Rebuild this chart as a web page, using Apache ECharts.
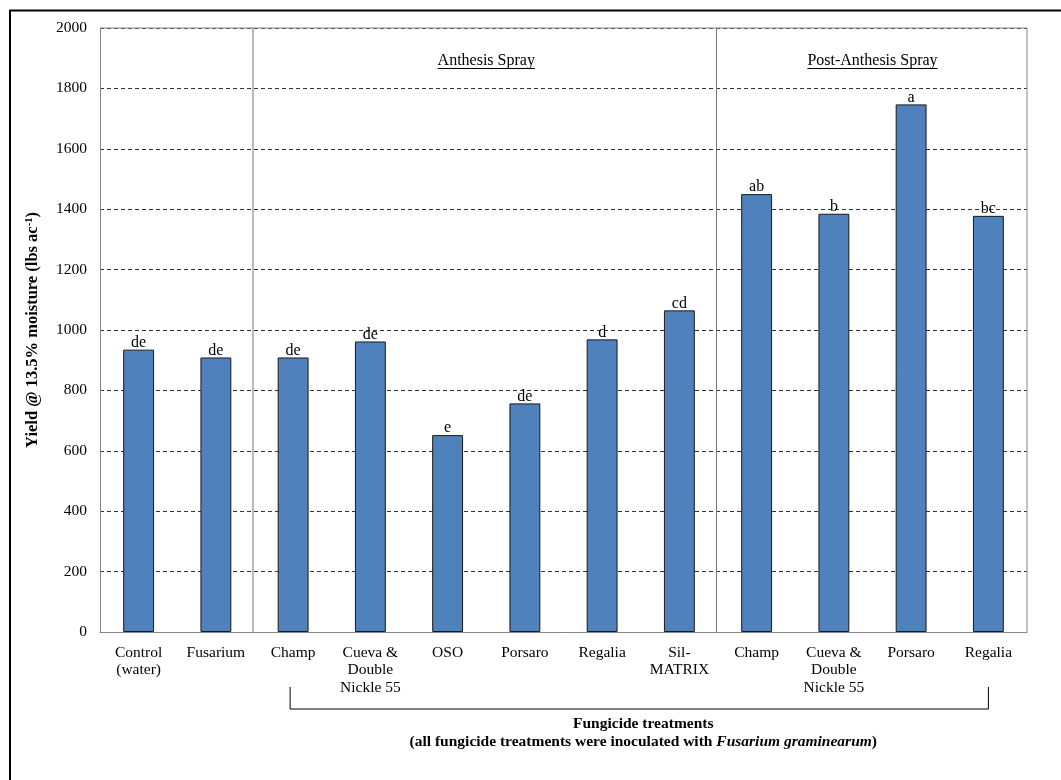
<!DOCTYPE html>
<html><head><meta charset="utf-8">
<script src="https://cdn.jsdelivr.net/npm/echarts@6/dist/echarts.min.js"></script>
<style>html,body{margin:0;padding:0;background:#fff}#c{width:1061px;height:780px}</style>
</head><body><div id="c"></div>
<script>
// ---- data ----
const categories = ['Control\n(water)', 'Fusarium', 'Champ', 'Cueva &\nDouble\nNickle 55', 'OSO', 'Porsaro', 'Regalia', 'Sil-\nMATRIX', 'Champ', 'Cueva &\nDouble\nNickle 55', 'Porsaro', 'Regalia'];
const yields = [935, 909, 909, 962, 652, 757, 969, 1065, 1450, 1385, 1747, 1378];
const letters = ['de', 'de', 'de', 'de', 'e', 'de', 'd', 'cd', 'ab', 'b', 'a', 'bc'];
const yMin = 0, yMax = 2000, yStep = 200;
const groupTitles = ['Anthesis Spray', 'Post-Anthesis Spray'];
const groupRanges = [[2, 7], [8, 11]];
const bracketRange = [2, 11];
const yTitleMain = 'Yield @ 13.5% moisture (lbs ac';
const yTitleSup = '-1';
const xTitleLine1 = 'Fungicide treatments';
const xTitleLine2a = '(all fungicide treatments were inoculated with ';
const xTitleLine2b = 'Fusarium graminearum';
const xTitleLine2c = ')';

(function () {
const SERIF = '"Liberation Serif","Times New Roman",serif';
const chart = echarts.init(document.getElementById('c'), null, {renderer: 'canvas'});
chart.setOption({
  animation: false,
  backgroundColor: '#fff',
  grid: {left: 100, right: 34, top: 28, bottom: 148},
  xAxis: {
    type: 'category', data: categories,
    axisTick: {show: false},
    axisLine: {lineStyle: {color: '#868686', width: 1}},
    axisLabel: {interval: 0, color: '#000', fontFamily: SERIF, fontSize: 15.5, lineHeight: 17.5, margin: 12}
  },
  yAxis: {
    type: 'value', min: yMin, max: yMax, interval: yStep,
    axisLine: {show: true, lineStyle: {color: '#868686'}},
    axisTick: {show: false},
    axisLabel: {color: '#000', fontFamily: SERIF, fontSize: 15.5, margin: 13, formatter: v => String(v)},
    splitLine: {lineStyle: {color: '#333', type: [4, 3], width: 1}}
  },
  series: [{
    type: 'bar', data: yields, barWidth: '40%',
    itemStyle: {color: '#4F81BD', borderColor: '#1a1a1a', borderWidth: 1},
    label: {show: true, position: 'top', distance: -1, formatter: p => letters[p.dataIndex],
      fontFamily: SERIF, fontSize: 16, color: '#000'}
  }]
});

const px = i => chart.convertToPixel({xAxisIndex: 0}, i);
const py = v => chart.convertToPixel({yAxisIndex: 0}, v);
const step = px(1) - px(0);
const pLeft = px(0) - step / 2, pRight = px(categories.length - 1) + step / 2;
const pTop = py(yMax), pBottom = py(yMin);

const ctx = document.createElement('canvas').getContext('2d');
function textW(t, font) { ctx.font = font; return ctx.measureText(t).width; }

const g = [];
g.push({type: 'rect', shape: {x: 10, y: 10.5, width: 1100, height: 800}, style: {fill: 'none', stroke: '#000', lineWidth: 2}, z: 100});
g.push({type: 'polyline', shape: {points: [[pLeft, pTop], [pRight, pTop], [pRight, pBottom]]}, style: {stroke: '#868686', lineWidth: 1, fill: 'none'}, z: 100});
groupRanges.forEach((r, k) => {
  const xs = px(r[0]) - step / 2 - 1.5;
  if (r[0] > 0) g.push({type: 'line', shape: {x1: xs, y1: pTop, x2: xs, y2: pBottom}, style: {stroke: '#777', lineWidth: 1}, z: 100});
  const cx = (px(r[0]) + px(r[1])) / 2;
  const font = '16px "Liberation Serif"';
  const w = textW(groupTitles[k], font);
  g.push({type: 'text', x: cx, y: 61, style: {text: groupTitles[k], fontFamily: SERIF, fontSize: 16, fill: '#000', align: 'center', verticalAlign: 'middle'}, z: 100});
  g.push({type: 'line', shape: {x1: cx - w / 2, y1: 68.5, x2: cx + w / 2, y2: 68.5}, style: {stroke: '#000', lineWidth: 1}, z: 100});
});
const bx1 = px(bracketRange[0]) - 3, bx2 = px(bracketRange[1]);
g.push({type: 'polyline', shape: {points: [[bx1, 687], [bx1, 709], [bx2, 709], [bx2, 687]]}, style: {stroke: '#000', lineWidth: 1, fill: 'none'}, z: 100});
const bcx = (bx1 + bx2) / 2 + 4;
g.push({type: 'text', x: bcx, y: 724, style: {text: xTitleLine1, fontFamily: SERIF, fontSize: 15.5, fontWeight: 'bold', fill: '#000', align: 'center', verticalAlign: 'middle'}, z: 100});
g.push({type: 'text', x: bcx, y: 742, style: {
  text: '{b|' + xTitleLine2a + '}{i|' + xTitleLine2b + '}{b|' + xTitleLine2c + '}',
  align: 'center', verticalAlign: 'middle',
  rich: {
    b: {fontFamily: SERIF, fontSize: 15.5, fontWeight: 'bold', fill: '#000'},
    i: {fontFamily: SERIF, fontSize: 15.5, fontWeight: 'bold', fontStyle: 'italic', fill: '#000'}
  }}, z: 100});
g.push({type: 'text', x: 33, y: (pTop + pBottom) / 2, rotation: Math.PI / 2, style: {
  text: '{b|' + yTitleMain + '}{s|' + yTitleSup + '}{b|)}',
  align: 'center', verticalAlign: 'middle',
  rich: {
    b: {fontFamily: SERIF, fontSize: 16.5, fontWeight: 'bold', fill: '#000', lineHeight: 18},
    s: {fontFamily: SERIF, fontSize: 10.5, fontWeight: 'bold', fill: '#000', verticalAlign: 'top', lineHeight: 10}
  }}, z: 100});

chart.setOption({graphic: g});
})();
</script>
</body></html>
